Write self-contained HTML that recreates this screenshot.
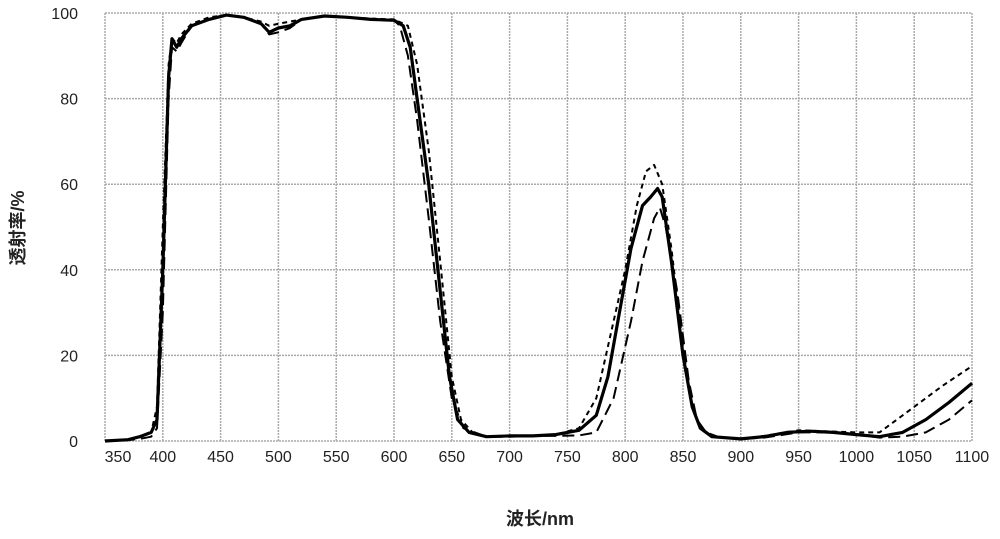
<!DOCTYPE html>
<html><head><meta charset="utf-8"><style>
body{margin:0;background:#fff}
svg text{font-family:"Liberation Sans","Noto Sans CJK SC",sans-serif;fill:#222}
</style></head><body>
<svg id="c" width="1000" height="534"></svg>
<script>
const xTicks=[350,400,450,500,550,600,650,700,750,800,850,900,950,1000,1050,1100];
const yTicks=[0,20,40,60,80,100];
const wlA=[350,370,380,390,395,400,405,408,412,416,425,440,455,470,485,492,500,510,520,540,560,580,600,608,614,620,630,640,648,655,665,680,700,720,740,760,775,785,795,805,815,822,828,832,840,850,858,865,875,900,920,940,960,980,1000,1020,1040,1060,1080,1100];
const solidT=[0,0.3,1,2,5,40,85,94,92,94,97,98.5,99.5,99,97.5,95.5,96.5,97,98.5,99.3,99,98.5,98.3,97,92,80,60,35,15,5,2,1,1.2,1.2,1.5,2.5,6,15,30,45,55,57,59,57,42,20,8,3,1,0.5,1,2,2.3,2,1.5,1,2,5,9,13.5];
const wlB=[350,370,380,390,395,400,405,408,412,416,425,440,455,470,485,492,500,510,520,540,560,580,600,612,620,630,640,650,658,668,680,700,720,740,760,775,790,800,810,818,825,832,840,850,858,865,875,900,920,950,1000,1020,1030,1050,1075,1100];
const shortDashT=[0,0.3,1,2,8,50,88,94,93,95,97.5,99,99.5,99,98,97,97.5,98,98.5,99.3,99,98.7,98.5,97,88,68,42,15,5,2,1,1.2,1.2,1.5,3,10,28,40,55,63,64.5,60,45,22,8,3,1,0.5,1.2,2.5,2,2,4,8,13,17.5];
const wlC=[350,370,380,390,395,400,405,408,412,416,425,440,455,470,485,492,500,510,520,540,560,580,600,605,612,620,630,640,650,660,680,700,720,740,760,775,790,805,815,825,830,835,845,855,862,870,880,900,920,950,980,1000,1020,1040,1060,1080,1100];
const longDashT=[0,0.2,0.5,1,3,30,80,92,91,93,97,98.5,99.5,99,97.5,95,95.5,96.5,98.5,99.3,99,98.5,98.3,97,90,75,52,28,10,3,1,1,1.2,1.2,1.3,2,10,28,42,52,54.5,50,35,14,5,2,1,0.5,0.8,2,2,1.5,0.8,1,2,5,9.5];
const X0=105,X1=972,Y0=441,Y1=13;
const sx=v=>X0+(v-350)/(1100-350)*(X1-X0);
const sy=v=>Y0-v/100*(Y0-Y1);
const svg=document.getElementById('c');const NS='http://www.w3.org/2000/svg';
function mk(t,a){const e=document.createElementNS(NS,t);for(const k in a)e.setAttribute(k,a[k]);svg.appendChild(e);return e;}
xTicks.forEach(v=>{const l=mk('line',{x1:sx(v),x2:sx(v),y1:Y1,y2:Y0,stroke:'#aaa','stroke-width':1.5,'stroke-dasharray':'2,1'});


const t=mk('text',{x:sx(v)+(v===350?13:0),y:462,'text-anchor':'middle','font-size':16});t.textContent=v;

});
yTicks.forEach(v=>{const l=mk('line',{x1:X0,x2:X1,y1:sy(v),y2:sy(v),stroke:'#aaa','stroke-width':1.5,'stroke-dasharray':'2,1'});


const t=mk('text',{x:78,y:sy(v)+6,'text-anchor':'end','font-size':16});t.textContent=v;

});
function series(wl,vals,w,dash,name){const d=wl.map((x,i)=>(i?'L':'M')+sx(x).toFixed(1)+','+sy(vals[i]).toFixed(1)).join('');
const p=mk('path',{d:d,fill:'none',stroke:'#000','stroke-width':w,'stroke-dasharray':dash,'stroke-linejoin':'round'});

}
series(wlB,shortDashT,2,'5,4','short-dash-series');
series(wlC,longDashT,2,'12,6','long-dash-series');
series(wlA,solidT,3.2,'none','solid-series');
const xt=mk('text',{x:540,y:525,'text-anchor':'middle','font-size':18,'font-weight':'bold'});xt.textContent='波长/nm';


const yt=mk('text',{x:0,y:0,'text-anchor':'middle','font-size':18,'font-weight':'bold',transform:'translate(24,228) rotate(-90)'});yt.textContent='透射率/%';


</script></body></html>
